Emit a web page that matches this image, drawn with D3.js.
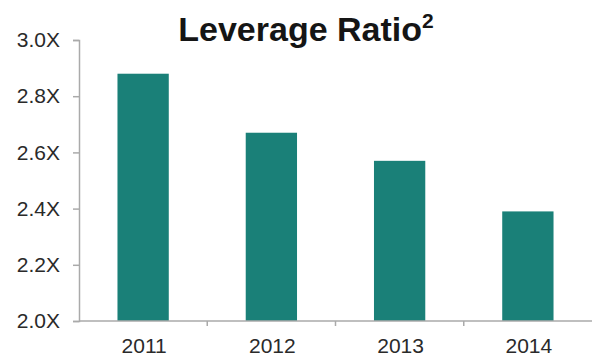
<!DOCTYPE html>
<html>
<head>
<meta charset="utf-8">
<script src="https://cdn.jsdelivr.net/npm/d3@7"></script>
<style>
  body { margin: 0; background: #fff; }
  svg { display: block; font-family: "Liberation Sans", Arial, sans-serif; }
</style>
</head>
<body>
<div id="chart"></div>
<script>
// data
const years = ["2011", "2012", "2013", "2014"];
const leverage = [2.88, 2.67, 2.57, 2.39];
const yTicks = [2.0, 2.2, 2.4, 2.6, 2.8, 3.0];

const width = 592, height = 358;
const margin = { top: 40, right: 0, bottom: 37, left: 79 };

const svg = d3.select("#chart").append("svg")
  .attr("width", width)
  .attr("height", height);

const x = d3.scaleBand()
  .domain(years)
  .range([margin.left, width - margin.right])
  .paddingInner(0.6)
  .paddingOuter(0.3);

const y = d3.scaleLinear()
  .domain([2.0, 3.0])
  .range([height - margin.bottom, margin.top]);

// bars
svg.append("g").selectAll("rect")
  .data(years)
  .join("rect")
    .attr("x", d => x(d))
    .attr("y", (d, i) => y(leverage[i]))
    .attr("width", x.bandwidth())
    .attr("height", (d, i) => y(2.0) - y(leverage[i]))
    .attr("fill", "#1a8078");

// y axis
const yAxis = svg.append("g")
  .attr("transform", `translate(${margin.left},0)`)
  .call(d3.axisLeft(y).tickValues(yTicks).tickSize(6).tickPadding(13)
    .tickFormat(d => d3.format(".1f")(d) + "X"));
yAxis.select(".domain").attr("stroke", "#aaa").attr("stroke-width", 1.5);
yAxis.selectAll(".tick line").attr("stroke", "#aaa").attr("stroke-width", 1.5);
yAxis.selectAll(".tick text")
  .attr("font-size", 21).attr("fill", "#2a2a2a");

// x axis
const step = x.step();
const bounds = years.slice(1).map(d => x(d) - (step - x.bandwidth()) / 2);
svg.append("line")
  .attr("x1", margin.left).attr("x2", width)
  .attr("y1", y(2.0)).attr("y2", y(2.0))
  .attr("stroke", "#aaa").attr("stroke-width", 1.5);
svg.append("g").selectAll("line")
  .data(bounds)
  .join("line")
    .attr("x1", d => d).attr("x2", d => d)
    .attr("y1", y(2.0)).attr("y2", y(2.0) + 5)
    .attr("stroke", "#aaa").attr("stroke-width", 1.5);
svg.append("g").selectAll("text")
  .data(years)
  .join("text")
    .attr("x", d => x(d) + x.bandwidth() / 2 + 1)
    .attr("y", 353)
    .attr("text-anchor", "middle")
    .attr("font-size", 21)
    .attr("fill", "#2a2a2a")
    .text(d => d);

// title
const title = svg.append("text")
  .attr("x", 306).attr("y", 41)
  .attr("text-anchor", "middle")
  .attr("font-size", 34)
  .attr("font-weight", "bold")
  .attr("fill", "#151515");
title.append("tspan").text("Leverage Ratio");
title.append("tspan").attr("font-size", 21).attr("dy", -13).text("2");
</script>
</body>
</html>
